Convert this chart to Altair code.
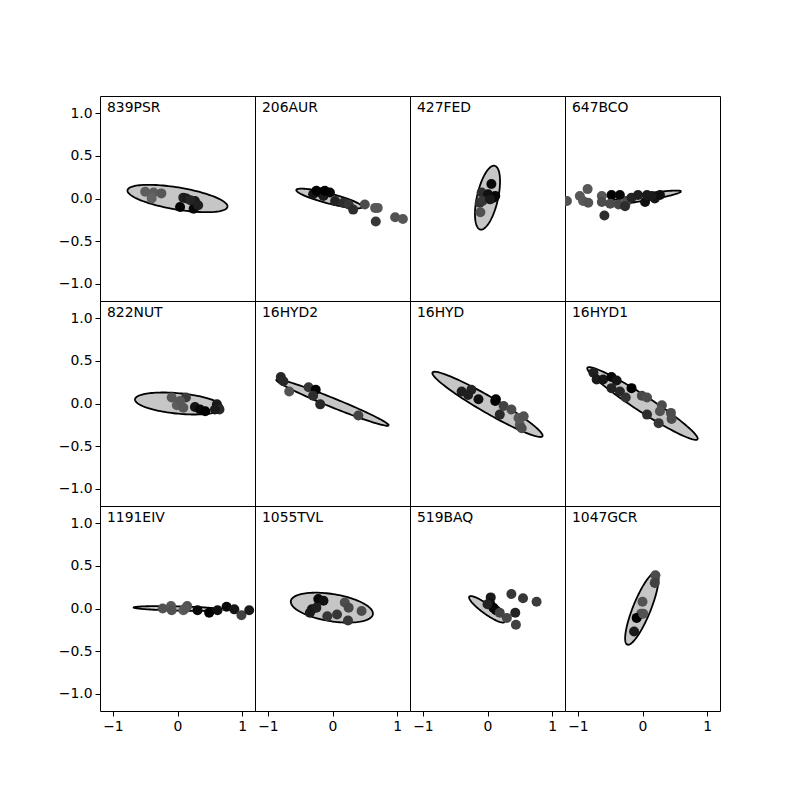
import numpy as np
import pandas as pd
import altair as alt

names = ["839PSR", "206AUR", "427FED", "647BCO",
         "822NUT", "16HYD2", "16HYD", "16HYD1",
         "1191EIV", "1055TVL", "519BAQ", "1047GCR"]

# ellipse parameters (data units): centre, semi-axes, rotation (deg)
ell_cx = [0.00, -0.05, 0.00, 0.00, 0.02, 0.00, 0.00, 0.00, 0.00, -0.01, -0.01, -0.01]
ell_cy = [0.00, 0.00, 0.01, 0.01, 0.00, 0.01, -0.01, 0.00, 0.00, 0.01, -0.01, 0.00]
ell_a = [0.78, 0.52, 0.39, 0.60, 0.68, 0.91, 0.93, 0.95, 0.68, 0.64, 0.31, 0.48]
ell_b = [0.13, 0.06, 0.16, 0.04, 0.12, 0.055, 0.10, 0.10, 0.025, 0.16, 0.06, 0.13]
ell_ang = [-7, -11, 72, 7, -4, -17, -23.5, -26, -1, -6.6, -28, 61]

# observed points per panel: x, y, shade (0 = black, 1 = mid grey)
pts_x = {
    "839PSR": [-0.50, -0.37, -0.25, -0.40, 0.04, 0.09, 0.14, 0.27, 0.25, 0.32, 0.20],
    "206AUR": [-0.30, -0.19, -0.14, -0.04, 0.04, 0.17, 0.25, 0.32, 0.50, 0.66, 0.70, 0.67, 0.97, 1.09, -0.25, -0.12],
    "427FED": [0.06, -0.09, 0.01, 0.09, 0.12, -0.12, -0.08, -0.11, 0.04],
    "647BCO": [-1.17, -0.97, -0.85, -0.92, -0.84, -0.63, -0.63, -0.59, -0.48, -0.35, -0.50, -0.37, -0.25, -0.27, -0.17, -0.07, 0.04, 0.07, 0.19, 0.27, 0.14],
    "822NUT": [-0.09, 0.13, -0.01, 0.04, 0.09, 0.27, 0.35, 0.43, 0.61, 0.65, 0.58],
    "16HYD2": [-0.80, -0.76, -0.67, -0.37, -0.26, -0.30, -0.19, 0.40],
    "16HYD": [-0.40, -0.25, -0.30, -0.14, 0.12, 0.13, 0.19, 0.25, 0.37, 0.48, 0.56, 0.50, 0.53],
    "16HYD1": [-0.76, -0.71, -0.61, -0.48, -0.40, -0.48, -0.35, -0.26, -0.17, -0.01, 0.07, 0.30, 0.27, 0.44, 0.07, 0.25, 0.45],
    "1191EIV": [-0.23, -0.10, -0.09, 0.09, 0.15, 0.12, 0.31, 0.49, 0.62, 0.76, 0.88, 0.99, 1.11],
    "1055TVL": [-0.22, -0.14, -0.32, -0.25, -0.35, -0.08, 0.07, 0.19, 0.25, 0.24, 0.45],
    "519BAQ": [0.05, 0.04, 0.09, 0.13, 0.19, 0.30, 0.37, 0.55, 0.76, 0.43, 0.44, 0.00],
    "1047GCR": [0.20, 0.19, 0.00, -0.02, -0.09, 0.01, -0.13],
}
pts_y = {
    "839PSR": [0.08, 0.07, 0.06, 0.00, -0.10, 0.01, 0.00, -0.03, -0.12, -0.08, -0.02],
    "206AUR": [0.05, 0.07, 0.03, 0.07, -0.03, -0.05, -0.07, -0.13, -0.07, -0.11, -0.11, -0.27, -0.22, -0.24, 0.09, 0.09],
    "427FED": [0.17, 0.07, 0.05, 0.01, 0.03, -0.05, -0.03, -0.16, -0.01],
    "647BCO": [-0.03, 0.03, 0.11, -0.03, -0.05, 0.03, -0.04, -0.20, 0.04, 0.04, -0.06, -0.07, -0.04, -0.09, 0.01, 0.04, -0.04, 0.04, 0.00, 0.04, 0.03],
    "822NUT": [0.07, 0.07, -0.02, 0.03, -0.05, -0.04, -0.07, -0.09, -0.01, -0.07, -0.07],
    "16HYD2": [0.31, 0.26, 0.14, 0.19, 0.16, 0.09, -0.01, -0.14],
    "16HYD": [0.14, 0.16, 0.10, 0.05, 0.03, 0.05, -0.13, -0.03, -0.07, -0.17, -0.15, -0.25, -0.29],
    "16HYD1": [0.36, 0.28, 0.28, 0.31, 0.27, 0.18, 0.14, 0.07, 0.18, 0.09, 0.07, -0.02, -0.09, -0.11, -0.13, -0.23, -0.18],
    "1191EIV": [0.00, 0.03, -0.02, -0.02, 0.03, 0.00, -0.02, -0.05, -0.02, 0.02, -0.01, -0.08, -0.02],
    "1055TVL": [0.11, 0.09, -0.01, 0.01, -0.05, -0.09, -0.07, 0.07, 0.01, -0.14, -0.03],
    "519BAQ": [0.13, 0.06, 0.01, -0.02, -0.05, -0.11, 0.17, 0.12, 0.08, -0.05, -0.19, 0.05],
    "1047GCR": [0.39, 0.30, 0.08, -0.06, -0.11, -0.06, -0.27],
}
pts_g = {
    "839PSR": [0.85, 0.85, 0.8, 0.9, 0.0, 0.25, 0.2, 0.2, 0.05, 0.25, 0.3],
    "206AUR": [0.15, 0.0, 0.2, 0.05, 0.3, 0.4, 0.5, 0.4, 0.7, 0.8, 0.8, 0.5, 0.75, 0.8, 0.0, 0.0],
    "427FED": [0.05, 0.4, 0.1, 0.0, 0.05, 0.45, 0.5, 0.75, 0.2],
    "647BCO": [0.75, 0.8, 0.8, 0.8, 0.75, 0.8, 0.7, 0.4, 0.0, 0.05, 0.7, 0.65, 0.7, 0.4, 0.3, 0.25, 0.1, 0.2, 0.15, 0.1, 0.2],
    "822NUT": [0.8, 0.55, 0.85, 0.8, 0.8, 0.15, 0.05, 0.0, 0.2, 0.35, 0.2],
    "16HYD2": [0.35, 0.35, 0.75, 0.5, 0.0, 0.4, 0.35, 0.6],
    "16HYD": [0.25, 0.3, 0.25, 0.1, 0.0, 0.0, 0.35, 0.6, 0.7, 0.8, 0.75, 0.8, 0.7],
    "16HYD1": [0.25, 0.2, 0.15, 0.05, 0.15, 0.3, 0.35, 0.45, 0.0, 0.65, 0.7, 0.7, 0.75, 0.7, 0.4, 0.5, 0.7],
    "1191EIV": [0.75, 0.8, 0.75, 0.85, 0.75, 0.8, 0.05, 0.0, 0.1, 0.05, 0.15, 0.6, 0.2],
    "1055TVL": [0.05, 0.1, 0.15, 0.25, 0.2, 0.5, 0.5, 0.7, 0.65, 0.5, 0.7],
    "519BAQ": [0.2, 0.1, 0.0, 0.05, 0.6, 0.65, 0.5, 0.5, 0.55, 0.3, 0.6, 0.3],
    "1047GCR": [0.7, 0.6, 0.75, 0.75, 0.0, 0.75, 0.2],
}

x_ticks = [-1, 0, 1]
y_ticks = [-1, -0.5, 0, 0.5, 1]

xs = alt.Scale(domain=[-1.2, 1.2], nice=False, zero=False)
ys = alt.Scale(domain=[-1.2, 1.2], nice=False, zero=False)


def panel(i, n, show_x, show_y):
    cx, cy, a, b = ell_cx[i], ell_cy[i], ell_a[i], ell_b[i]
    th = np.deg2rad(ell_ang[i])
    c, s = np.cos(th), np.sin(th)
    tt = np.linspace(0, 2 * np.pi, 121)
    outline_df = pd.DataFrame({
        "ord": np.arange(len(tt)),
        "x": cx + a * c * np.cos(tt) - b * s * np.sin(tt),
        "y": cy + a * s * np.cos(tt) + b * c * np.sin(tt),
    })
    W = np.sqrt(a * a * c * c + b * b * s * s)
    A = s * s / a ** 2 + c * c / b ** 2
    ph = np.linspace(0, np.pi, 81)
    dx = -W * np.cos(ph)
    B = 2 * dx * (c * s / a ** 2 - s * c / b ** 2)
    C = dx * dx * (c * c / a ** 2 + s * s / b ** 2) - 1
    disc = np.clip(B * B - 4 * A * C, 0, None)
    area_df = pd.DataFrame({
        "x": cx + dx,
        "ylo": cy + (-B - np.sqrt(disc)) / (2 * A),
        "yhi": cy + (-B + np.sqrt(disc)) / (2 * A),
    })
    pts_df = pd.DataFrame({"x": pts_x[n], "y": pts_y[n], "g": pts_g[n]})
    lab_df = pd.DataFrame({"text": [n]})

    if show_x:
        xax = alt.Axis(values=x_ticks, format="d", title=None)
    else:
        xax = None
    if show_y:
        yax = alt.Axis(values=y_ticks, format=".1f", title=None)
    else:
        yax = None

    X = lambda f: alt.X(f, scale=xs, axis=xax)
    Y = lambda f: alt.Y(f, scale=ys, axis=yax)

    area = alt.Chart(area_df).mark_area(
        fill="#c6c6c6", opacity=1, clip=True, interpolate="linear"
    ).encode(x=X("x:Q"), y=Y("ylo:Q"), y2="yhi:Q")

    outline = alt.Chart(outline_df).mark_line(
        color="black", strokeWidth=1.8, clip=True
    ).encode(x=X("x:Q"), y=Y("y:Q"), order="ord:Q")

    pts = alt.Chart(pts_df).mark_circle(size=100, opacity=1, clip=True).encode(
        x=X("x:Q"), y=Y("y:Q"),
        color=alt.Color("g:Q", scale=alt.Scale(domain=[0, 1], range=["#000000", "#6e6e6e"]), legend=None),
    )

    label = alt.Chart(lab_df).mark_text(
        align="left", baseline="top", fontSize=13.9, font="DejaVu Sans", color="black"
    ).encode(x=alt.value(7), y=alt.value(5), text="text:N")

    return alt.layer(area, outline, pts, label).properties(width=155, height=205)


cells = []
for r in range(3):
    for cidx in range(4):
        i = r * 4 + cidx
        cells.append(panel(i, names[i], show_x=(r == 2), show_y=(cidx == 0)))

chart = alt.concat(*cells, columns=4, spacing=0, bounds="flush").properties(
    padding={"left": 49, "top": 87, "right": 5, "bottom": 5}
).configure_view(
    stroke="black", strokeWidth=1
).configure_axis(
    domain=False, grid=False, ticks=True, tickSize=5, tickColor="black",
    labelColor="black", labelFontSize=13.9, labelFont="DejaVu Sans", labelPadding=3,
)

chart.save("out.html", embed_options={"renderer": "svg", "actions": False})
